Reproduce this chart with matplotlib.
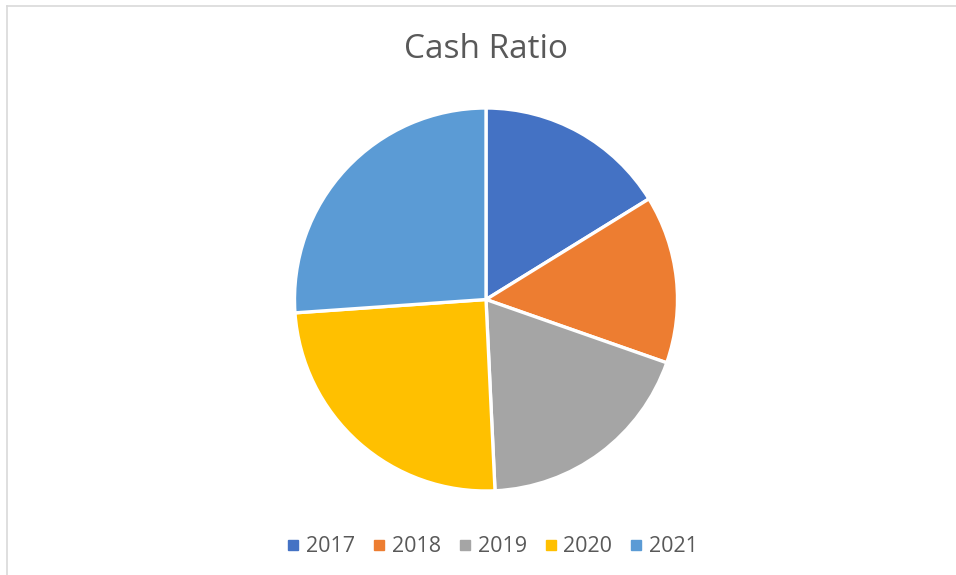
import matplotlib
matplotlib.use("Agg")
import matplotlib.pyplot as plt
from matplotlib.lines import Line2D

years = ["2017", "2018", "2019", "2020", "2021"]
cash_ratio = [58.3, 51.0, 68.0, 88.7, 94.0]  # read as slice angles (degrees)
colors = ["#4472C4", "#ED7D31", "#A5A5A5", "#FFC000", "#5B9BD5"]

plt.rcParams['font.family'] = ['Open Sans', 'DejaVu Sans']

W, H = 956, 575
fig = plt.figure(figsize=(W / 100, H / 100), dpi=100)

# chart area border (light grey, top + left visible)
fig.add_artist(Line2D([7 / W, 7 / W], [0, 1 - 6 / H], transform=fig.transFigure,
                      color="#d9d9d9", lw=1.2))
fig.add_artist(Line2D([7 / W, 1], [1 - 6 / H, 1 - 6 / H], transform=fig.transFigure,
                      color="#d9d9d9", lw=1.2))

cx, cy, r = 486, 299.5, 191.5
ax = fig.add_axes([(cx - r) / W, (H - cy - r) / H, 2 * r / W, 2 * r / H])
ax.pie(cash_ratio, colors=colors, startangle=90, counterclock=False, radius=1,
       wedgeprops=dict(edgecolor="white", linewidth=2.4))
ax.set_xlim(-1, 1)
ax.set_ylim(-1, 1)
ax.set_aspect("equal")
ax.axis("off")

fig.text(cx / W, 1 - 50 / H, "Cash Ratio", ha="center", va="center",
         fontsize=24, color="#595959")

handles = [Line2D([], [], marker="s", linestyle="none", markersize=7,
                  markerfacecolor=c, markeredgecolor=c) for c in colors]
fig.legend(handles, years, loc="center", bbox_to_anchor=(493 / W, 1 - 547 / H),
           ncol=5, frameon=False, fontsize=15.5, handlelength=0.5,
           handletextpad=0.35, columnspacing=0.85, labelcolor="#595959")

fig.savefig("out.png", dpi=100)
